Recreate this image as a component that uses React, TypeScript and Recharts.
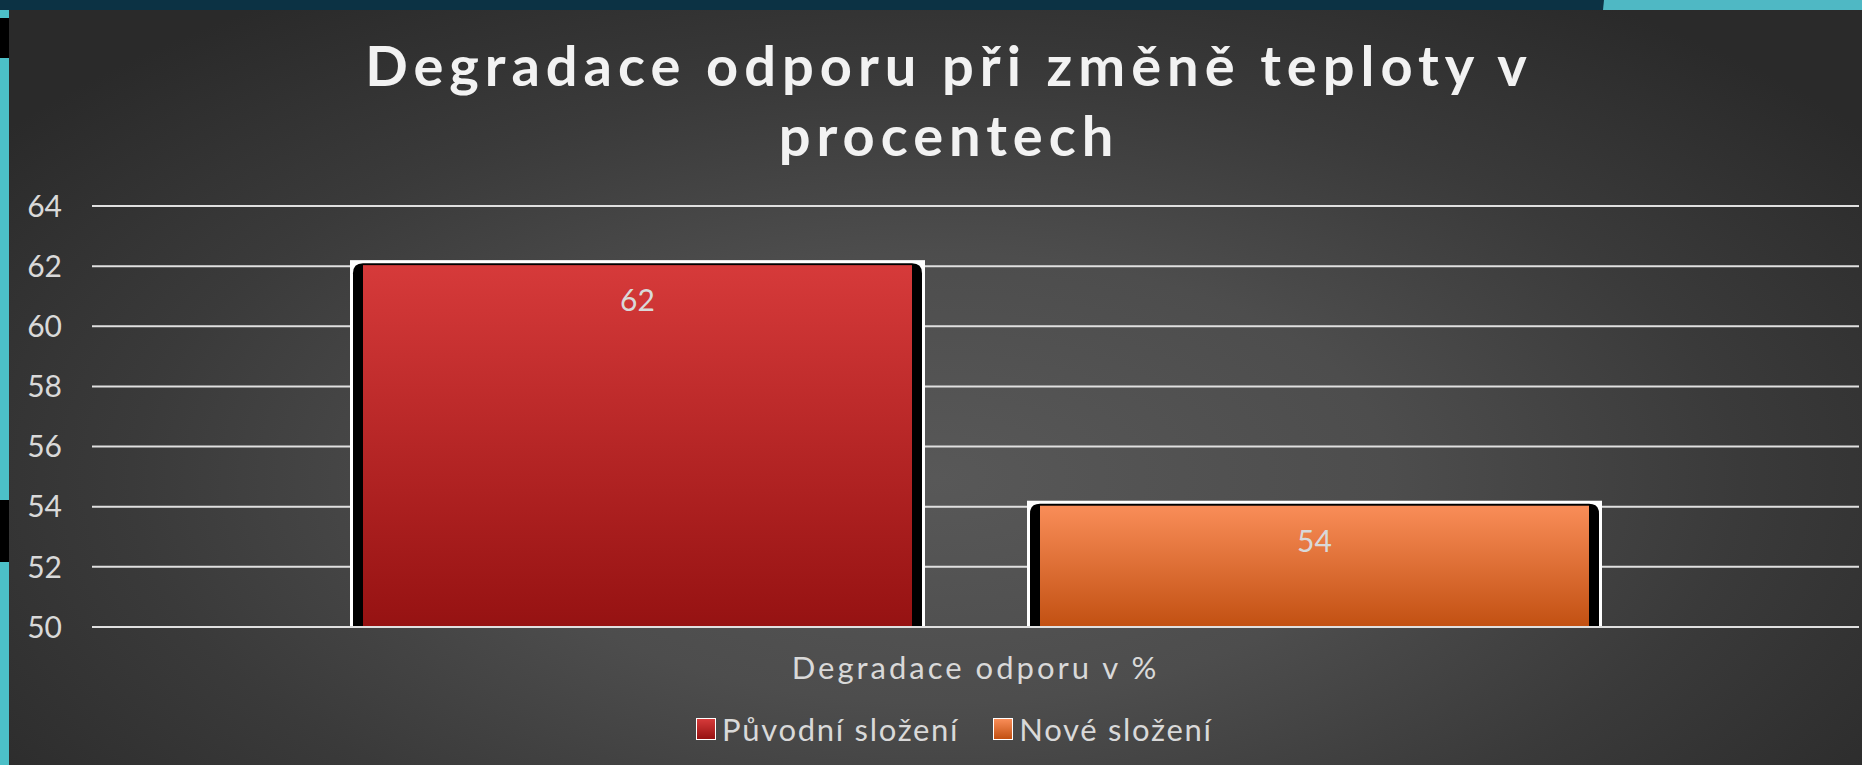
import { BarChart, Bar, XAxis, YAxis, CartesianGrid, LabelList } from 'recharts';

const KATEGORIE = ['Degradace odporu v %'];
const PUVODNI = [62];
const NOVE = [54];
const Y_TICKS = [50, 52, 54, 56, 58, 60, 62, 64];
const SERIE = [
  { key: 'puvodni', name: 'Původní složení', grad: 'gradRed', top: '#d63a3a', bottom: '#961212' },
  { key: 'nove', name: 'Nové složení', grad: 'gradOrange', top: '#f98d58', bottom: '#c25012' },
];

const data = KATEGORIE.map((k, i) => ({ name: k, puvodni: PUVODNI[i], nove: NOVE[i] }));

const FONT = 'Lato, "Open Sans", sans-serif';
const TEXT = '#d9d9d9';

function BarShape(props: any) {
  const { x, y, width, height, grad } = props;
  const bottom = y + height;
  const r = 10;
  const bx = x + 3;
  const bw = width - 6;
  const by = y - 3;
  const black = `M${bx},${bottom} L${bx},${by + r} Q${bx},${by} ${bx + r},${by} L${bx + bw - r},${by} Q${bx + bw},${by} ${bx + bw},${by + r} L${bx + bw},${bottom} Z`;
  return (
    <g>
      <rect x={x} y={y - 6} width={width} height={bottom - y + 6} fill="#ffffff" />
      <path d={black} fill="#000000" />
      <rect x={x + 13} y={y - 1} width={width - 26} height={height + 1} fill={`url(#${grad})`} />
    </g>
  );
}

function ValueLabel(props: any) {
  const { x, y, width, value } = props;
  return (
    <text x={x + width / 2} y={y + 33} textAnchor="middle" dominantBaseline="central" fill={TEXT} fontSize={30} fontFamily={FONT}>
      {value}
    </text>
  );
}

function CategoryTick(props: any) {
  const { x, y, payload } = props;
  return (
    <text x={x} y={y + 40} textAnchor="middle" dominantBaseline="central" fill={TEXT} fontSize={31} fontFamily={FONT} letterSpacing={3}>
      {payload.value}
    </text>
  );
}

export default function App() {
  return (
    <div style={{ position: 'absolute', left: 0, top: 0, width: 1862, height: 765, overflow: 'hidden', background: '#0c3244' }}>
      {/* okraje slidu */}
      <div style={{ position: 'absolute', left: 0, top: 10, width: 9, height: 755, background: '#4cc0c8' }} />
      <div style={{ position: 'absolute', left: 0, top: 18, width: 9, height: 40, background: '#000' }} />
      <div style={{ position: 'absolute', left: 0, top: 500, width: 9, height: 62, background: '#000' }} />
      <div style={{ position: 'absolute', left: 1603, top: 0, width: 300, height: 10, background: '#4fb8c4', clipPath: 'polygon(1px 0, 100% 0, 100% 100%, 0 100%)' }} />

      <div
        style={{
          position: 'absolute',
          left: 9,
          top: 10,
          width: 1853,
          height: 755,
          background: 'radial-gradient(ellipse 70% 85% at 50% 62%, #585858 0%, #4d4d4d 35%, #3a3a3a 62%, #2a2a2a 90%)',
        }}
      >
        <div
          style={{
            position: 'absolute',
            left: 0,
            top: 20,
            width: 1880,
            textAlign: 'center',
            fontFamily: FONT,
            fontWeight: 700,
            fontSize: 56,
            lineHeight: '70px',
            letterSpacing: 6,
            color: '#f2f2f2',
          }}
        >
          Degradace odporu při změně teploty v<br />procentech
        </div>

        <BarChart width={1853} height={755} data={data} margin={{ top: 196, right: 3, left: 0, bottom: 78 }} barSize={575} barGap={102}>
          <defs>
            {SERIE.map((s) => (
              <linearGradient key={s.grad} id={s.grad} x1="0" y1="0" x2="0" y2="1">
                <stop offset="0%" stopColor={s.top} />
                <stop offset="100%" stopColor={s.bottom} />
              </linearGradient>
            ))}
          </defs>
          <CartesianGrid vertical={false} stroke="#e0e0e0" strokeWidth={2} />
          <XAxis dataKey="name" height={60} tickSize={0} tickMargin={0} axisLine={{ stroke: '#e0e0e0', strokeWidth: 2 }} tickLine={false} tick={<CategoryTick />} />
          <YAxis
            width={83}
            domain={[50, 64]}
            ticks={Y_TICKS}
            interval={0}
            axisLine={false}
            tickLine={false}
            tickSize={0}
            tickMargin={30}
            tick={{ fill: TEXT, fontSize: 30, fontFamily: FONT }}
          />
          {SERIE.map((s) => (
            <Bar key={s.key} dataKey={s.key} name={s.name} isAnimationActive={false} shape={(p: any) => <BarShape {...p} grad={s.grad} />}>
              <LabelList dataKey={s.key} content={<ValueLabel />} />
            </Bar>
          ))}
        </BarChart>

        <div style={{ position: 'absolute', left: 687, top: 699, height: 40, display: 'flex', alignItems: 'center', fontFamily: FONT, fontSize: 31, letterSpacing: 1.7, color: TEXT }}>
          {SERIE.map((s, i) => (
            <div key={s.key} style={{ display: 'flex', alignItems: 'center', marginRight: i === 0 ? 34 : 0 }}>
              <span
                style={{
                  display: 'inline-block',
                  width: 18,
                  height: 20,
                  border: '1px solid #ffffff',
                  background: `linear-gradient(${s.top}, ${s.bottom})`,
                  marginRight: 6,
                }}
              />
              <span>{s.name}</span>
            </div>
          ))}
        </div>
      </div>
    </div>
  );
}
